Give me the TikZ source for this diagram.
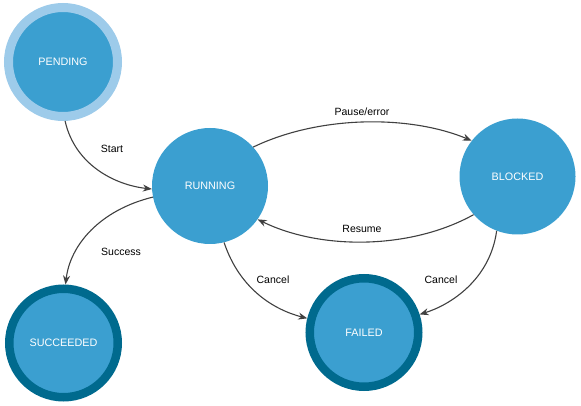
\documentclass[tikz,border=0pt]{standalone}
\usepackage{fontspec}
\setmainfont{Liberation Sans}
\usetikzlibrary{arrows.meta}
\definecolor{mainblue}{HTML}{3B9FD0}
\definecolor{lightring}{HTML}{9DCBEA}
\definecolor{darkring}{HTML}{006A8E}
\definecolor{edgegray}{HTML}{404040}
\tikzset{
  state/.style={circle, fill=mainblue, inner sep=0pt, text=white, font=\fontsize{10.8}{12}\selectfont},
  plain/.style={state, minimum size=116pt},
  startring/.style={state, draw=lightring, line width=9pt, minimum size=109pt},
  endring/.style={state, draw=darkring, line width=8.5pt, minimum size=108.5pt},
  trans/.style={draw=edgegray, line width=1.1pt, -{Stealth[length=9pt,width=7pt]}},
  lbl/.style={font=\fontsize{10.5}{12}\selectfont, text=black, inner sep=0pt}
}
\begin{document}
\begin{tikzpicture}[x=1pt,y=-1pt]
\useasboundingbox (0,0) rectangle (581,406);
\node[startring] (P) at (63,62) {PENDING};
\node[plain] (R) at (210,186) {RUNNING};
\node[plain] (B) at (517.5,176.5) {BLOCKED};
\node[endring] (S) at (63.5,343) {SUCCEEDED};
\node[endring] (F) at (364,332.5) {FAILED};

\draw[trans] (P.-88) .. controls (75,165) and (115,185) .. (R.183);
\draw[trans] (R.191) .. controls (100,210) and (70,245) .. (S.88);
\draw[trans] (R.-76) .. controls (240,290) and (275,310) .. (F.166);
\draw[trans] (B.249) .. controls (490,280) and (450,305) .. (F.18);
\draw[trans] (R.42) .. controls (320,115) and (410,115) .. (B.142.5);
\draw[trans] (B.221) .. controls (410,250) and (320,250) .. (R.-35);

\node[lbl] (lstart) at (112,149) {Start};
\node[lbl] (lsucc) at (121,252) {Success};
\node[lbl] (lcan1) at (273,280) {Cancel};
\node[lbl] (lcan2) at (441,280) {Cancel};
\node[lbl] (lpause) at (362,112) {Pause/error};
\node[lbl] (lres) at (362,229) {Resume};
\end{tikzpicture}
\end{document}
